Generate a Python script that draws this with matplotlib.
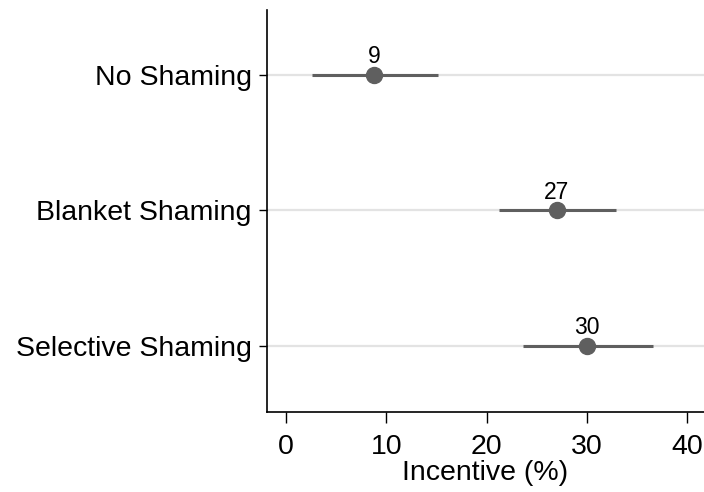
import matplotlib.pyplot as plt

plt.rcParams['font.family'] = ['Liberation Sans', 'DejaVu Sans']

categories = ["No Shaming", "Blanket Shaming", "Selective Shaming"]
estimates = [8.8, 27.0, 30.0]
ci_low = [2.6, 21.2, 23.6]
ci_high = [15.2, 32.9, 36.6]
value_labels = ["9", "27", "30"]

fig = plt.figure(figsize=(7.04, 4.92), dpi=100)
ax = fig.add_axes([267 / 704, 80 / 492, (704 - 267) / 704, (412 - 10) / 492])

ypos = list(range(len(categories)))
dot_color = "#5f5f5f"

for y in ypos:
    ax.axhline(y, color="#e3e3e3", lw=1.6, zorder=0)

ax.hlines(ypos, ci_low, ci_high, color=dot_color, lw=2.2, zorder=2)
ax.plot(estimates, ypos, "o", color=dot_color, ms=11.5, zorder=3)
for x, y, t in zip(estimates, ypos, value_labels):
    ax.text(x, y - 0.05, t, ha="center", va="bottom", fontsize=16.5)

ax.set_yticks(ypos)
ax.set_yticklabels(categories, fontsize=20.5)
ax.set_ylim(2.49, -0.48)
ax.set_xlim(-1.9, 41.7)
ax.set_xticks([0, 10, 20, 30, 40])
ax.tick_params(axis="x", labelsize=20.5, length=8, width=1, pad=8)
ax.tick_params(axis="y", length=6, width=1, pad=5)
ax.set_xlabel("Incentive (%)", fontsize=20.5, labelpad=0)

for s in ["top", "right"]:
    ax.spines[s].set_visible(False)
ax.spines["left"].set_linewidth(1.2)
ax.spines["bottom"].set_linewidth(1.2)

fig.savefig("out.png", dpi=100)
